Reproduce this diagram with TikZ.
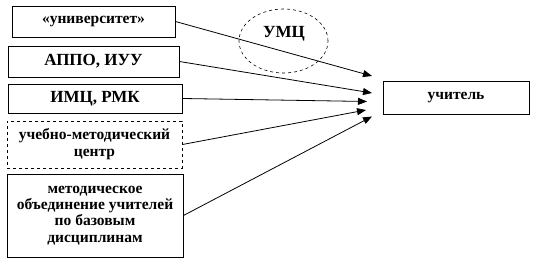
\documentclass[tikz,border=0pt]{standalone}
\usepackage{fontspec}
\setmainfont{Liberation Serif}
\usetikzlibrary{arrows.meta,shapes.geometric}
\begin{document}
\begin{tikzpicture}[x=1pt,y=-1pt,
  box/.style={draw,line width=0.9pt,inner sep=0pt,align=center,font=\bfseries\fontsize{15.5}{16.3}\selectfont},
  capsfont/.style={font=\bfseries\fontsize{17}{18}\selectfont},
  conn/.style={line width=0.8pt,-{Triangle[length=9pt,width=7pt]}}]
\useasboundingbox (0,0) rectangle (535,264);
\node[box,minimum width=163pt,minimum height=31pt] (uni) at (93.5,21.5) {«университет»};
\node[box,capsfont,minimum width=171pt,minimum height=31pt] (appo) at (93.5,61.5) {АППО, ИУУ};
\node[box,capsfont,minimum width=174pt,minimum height=29pt] (imc) at (95,98.5) {ИМЦ, РМК};
\node[box,dashed,minimum width=175pt,minimum height=47pt,font=\bfseries\fontsize{15.5}{17}\selectfont] (umc) at (94.5,144.5) {учебно-методический\\центр};
\node[box,minimum width=176pt,minimum height=83pt] (mo) at (95,215.5) {методическое\\объединение учителей\\по базовым\\дисциплинам};
\node[draw,dashed,ellipse,line width=0.6pt,minimum width=89pt,minimum height=64pt] (ell) at (283.5,41) {};
\node[capsfont] (umclabel) at (284,34) {УМЦ};
\node[box,minimum width=146pt,minimum height=33pt] (teach) at (456,97.5) {учитель};
\coordinate (e1) at (372,76);
\coordinate (e2) at (372,93);
\coordinate (e3) at (367,101.5);
\coordinate (e4) at (366,110);
\coordinate (e5) at (372,116.5);
\draw[conn] (uni.east) -- (e1);
\draw[conn] (appo.east) -- (e2);
\draw[conn] (imc.east) -- (e3);
\draw[conn] (umc.east) -- (e4);
\draw[conn] (mo.east) -- (e5);
\end{tikzpicture}
\end{document}
